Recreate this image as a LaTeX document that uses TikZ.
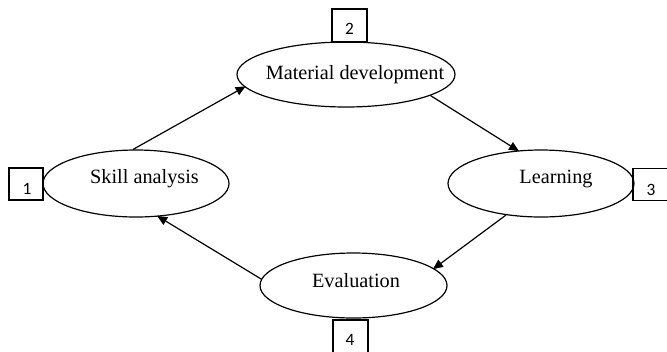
\documentclass[tikz,border=0pt]{standalone}
\usepackage{fontspec}
\setmainfont{Liberation Serif}
\newfontfamily\numfont{Carlito}
\usetikzlibrary{arrows.meta,shapes.geometric}
\tikzset{
  stage/.style={draw, ellipse, line width=0.9pt, inner sep=0pt},
  numbox/.style={draw, rectangle, line width=0.9pt, inner sep=0pt},
  stagetext/.style={anchor=base, inner sep=0pt, font=\fontsize{15.2}{18}\selectfont},
  numtext/.style={anchor=base, inner sep=0pt, font=\numfont\fontsize{13}{15}\selectfont},
  flow/.style={line width=0.9pt, -{Triangle[length=7.5pt,width=6.5pt]}, shorten >=-1pt}
}
\begin{document}
\begin{tikzpicture}[x=0.75pt,y=-0.75pt]
\useasboundingbox (0,0) rectangle (667,351);
\clip (0,0) rectangle (667,351);
\fill[white] (0,0) rectangle (667,351);
% ellipses
\node[stage, minimum width=139.5pt, minimum height=50.25pt] (skill) at (136,183.5) {};
\node[stage, minimum width=163.5pt, minimum height=48.75pt] (mat) at (346,74.5) {};
\node[stage, minimum width=139.5pt, minimum height=50.25pt] (learn) at (541,183.5) {};
\node[stage, minimum width=140.25pt, minimum height=48.75pt] (eval) at (353.5,285.5) {};
% texts
\node[stagetext] (tskill) at (144.5,183) {Skill analysis};
\node[stagetext] (tmat) at (355,79) {Material development};
\node[stagetext] (tlearn) at (556,183) {Learning};
\node[stagetext] (teval) at (356,287) {Evaluation};
% number boxes
\node[numbox, minimum width=25.5pt, minimum height=24pt] (b1) at (26,184) {};
\node[numbox, minimum width=26.25pt, minimum height=24.75pt] (b2) at (349.5,25.5) {};
\node[numbox, minimum width=27pt, minimum height=23.5pt] (b3) at (651,184.5) {};
\node[numbox, minimum width=26.25pt, minimum height=30pt] (b4) at (350.5,340) {};
\node[numtext] (n1) at (27,194) {1};
\node[numtext] (n2) at (349.5,34) {2};
\node[numtext] (n3) at (651,195) {3};
\node[numtext] (n4) at (350,345) {4};
% arrows
\draw[flow] (skill.95) -- (mat.187);
\draw[flow] (mat.346.6) -- (learn.125.3);
\draw[flow] (learn.222) -- (eval.12);
\draw[flow] (eval.176.6) -- (skill.304.8);
\end{tikzpicture}
\end{document}
